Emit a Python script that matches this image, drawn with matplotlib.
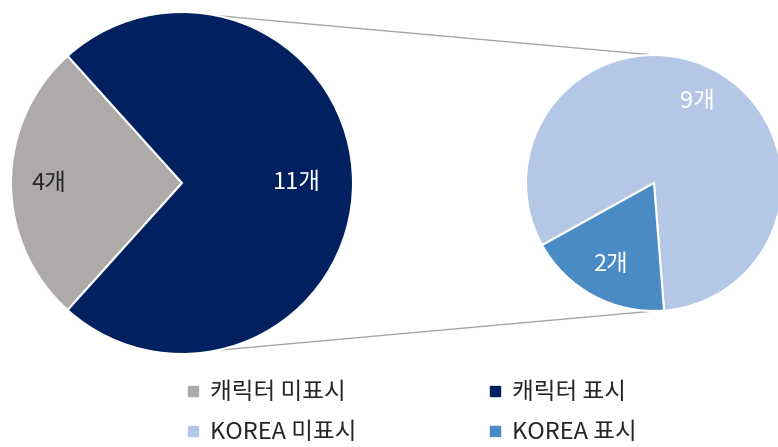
import numpy as np
import matplotlib
matplotlib.use("Agg")
import matplotlib.pyplot as plt
from matplotlib.lines import Line2D

plt.rcParams['font.family'] = ['Noto Sans CJK KR', 'DejaVu Sans']

# Main pie: characters hidden vs shown
main_labels = ['캐릭터 미표시', '캐릭터 표시']
main_values = [4, 11]
main_colors = ['#AEAAAA', '#002060']

# Secondary pie: breakdown of characters shown
sub_labels = ['KOREA 미표시', 'KOREA 표시']
sub_values = [9, 2]
sub_colors = ['#B4C7E7', '#4A8BC6']

W, H = 778, 447
fig = plt.figure(figsize=(W / 100, H / 100), dpi=100)
ax = fig.add_axes([0, 0, 1, 1])

main_center, main_r = (182, 264), 171
sub_center, sub_r = (654, 264), 128

# rotate the main pie so the small slice is centred on the left
main_start = 180 - 360 * main_values[0] / sum(main_values) / 2
w1, _ = ax.pie(main_values, colors=main_colors, startangle=main_start,
               center=main_center, radius=main_r, counterclock=True,
               wedgeprops=dict(edgecolor='white', linewidth=1.5))

# secondary pie: smaller slice sits in the lower-left
sub_start = 274.5
w2, _ = ax.pie(sub_values, colors=sub_colors, startangle=sub_start,
               center=sub_center, radius=sub_r, counterclock=True,
               wedgeprops=dict(edgecolor='white', linewidth=1.5))


def slice_label(wedge, value, frac, color):
    mid = np.deg2rad((wedge.theta1 + wedge.theta2) / 2)
    cx, cy = wedge.center
    r = wedge.r * frac
    ax.text(cx + r * np.cos(mid), cy + r * np.sin(mid), f'{value}개',
            ha='center', va='center', fontsize=17, color=color)


slice_label(w1[0], main_values[0], 0.78, '#262626')
slice_label(w1[1], main_values[1], 0.67, 'white')
slice_label(w2[0], sub_values[0], 0.72, 'white')
slice_label(w2[1], sub_values[1], 0.72, 'white')

# connector lines from the main pie to the secondary pie
for sign in (1, -1):
    a = np.deg2rad(78 * sign)
    x0 = main_center[0] + main_r * np.cos(a)
    y0 = main_center[1] + main_r * np.sin(a)
    x1 = sub_center[0]
    y1 = sub_center[1] + sign * sub_r
    ax.plot([x0, x1], [y0, y1], color='#A6A6A6', linewidth=1, zorder=0)

ax.set_xlim(0, W)
ax.set_ylim(0, H)
ax.set_aspect('equal')
ax.axis('off')

handles = []
order = [(main_labels[0], main_colors[0]), (sub_labels[0], sub_colors[0]),
         (main_labels[1], main_colors[1]), (sub_labels[1], sub_colors[1])]
for lab, col in order:
    handles.append(Line2D([], [], marker='s', linestyle='none', markersize=7,
                          markerfacecolor=col, markeredgecolor=col, label=lab))
leg = fig.legend(handles=handles, ncol=2, loc='upper left',
                 bbox_to_anchor=(186 / W, (H - 381) / H), frameon=False,
                 borderaxespad=0, borderpad=0,
                 fontsize=17, handlelength=0.6, handletextpad=0.4,
                 columnspacing=5.6, labelspacing=0.72)
for t in leg.get_texts():
    t.set_color('#262626')

fig.savefig('out.png', dpi=100)
